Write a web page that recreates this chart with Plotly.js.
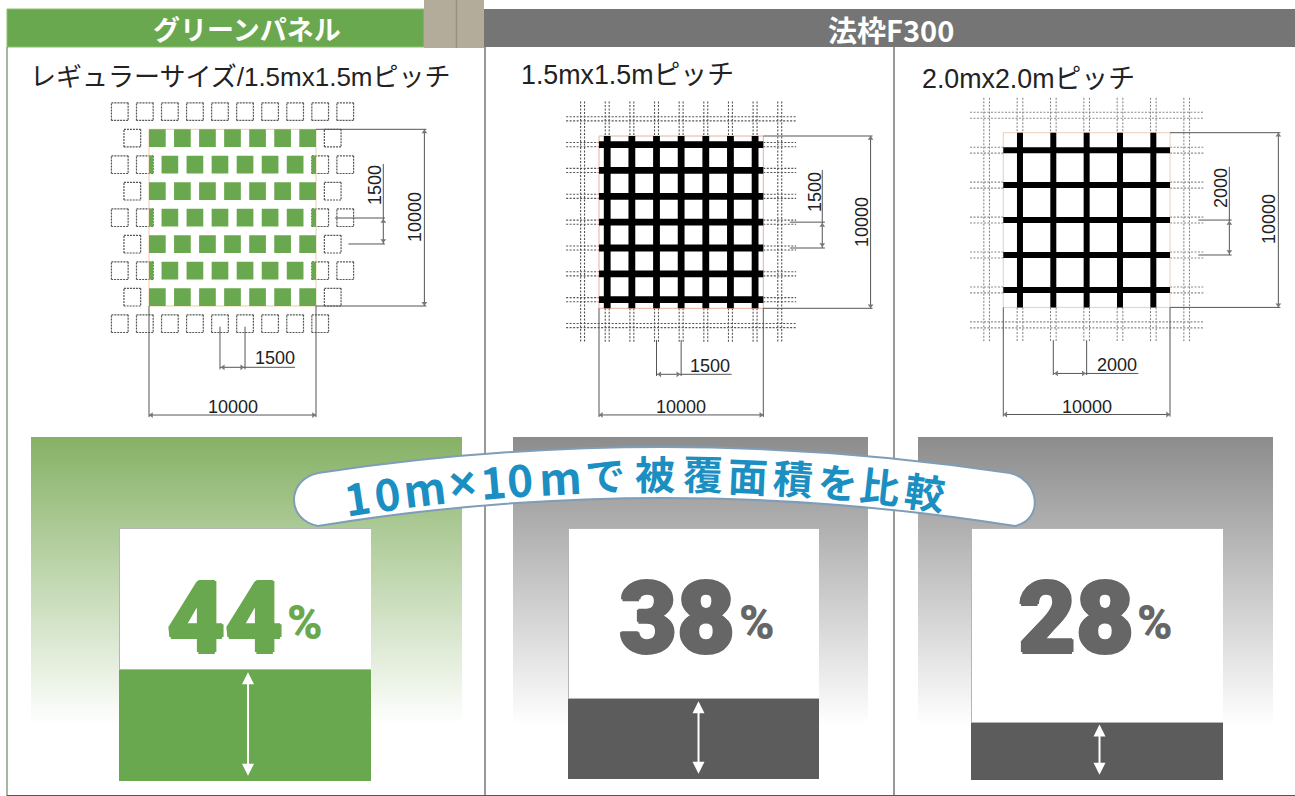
<!DOCTYPE html>
<html><head><meta charset="utf-8">
<script src="https://cdn.plot.ly/plotly-3.0.1.min.js"></script>
<style>html,body{margin:0;padding:0;background:#fff;overflow:hidden}#c{width:1295px;height:796px}</style>
</head><body><div id="c"></div>
<script>
// ---------- chart values ----------
const headers = ['グリーンパネル', '法枠F300'];
const subtitles = ['レギュラーサイズ/1.5mx1.5mピッチ', '1.5mx1.5mピッチ', '2.0mx2.0mピッチ'];
const bannerChars = ['1','0','m','×','1','0','m','で','被','覆','面','積','を','比','較'];
const coverageLabels = [44, 38, 28];       // printed percentages
const coverageDrawn = [44, 32, 23];        // bar heights as they appear in the picture (% of box)
const span = 10000;                        // mm
const panelRowsY = [500, 2000, 3500, 5000, 6500, 8000, 9500];
const panelColsOdd = [500, 2000, 3500, 5000, 6500, 8000, 9500];
const panelColsEven = [-250, 1250, 2750, 4250, 5750, 7250, 8750, 10250];
const dottedTopX = [-1750, -250, 1250, 2750, 4250, 5750, 7250, 8750, 10250, 11750];
const dottedBottomX = [-1750, -250, 1250, 2750, 4250, 5750, 7250, 8750, 10250];
const dottedOddSideX = [-1000, 11000];
const dottedEvenSideX = [-1750, -250, 10250, 11750];
const f300Pitch15 = [500, 2000, 3500, 5000, 6500, 8000, 9500];
const f300Pitch20 = [1000, 3000, 5000, 7000, 9000];
const outer = [-1000, 11000];

// ---------- helpers ----------
const W = 1295, H = 796;
const GREEN = '#6aa84f', GREY = '#5c5c5c';
const FONT = '"Liberation Sans", "Noto Sans CJK JP", sans-serif';
const CJK = '"Noto Sans CJK JP", "Liberation Sans", sans-serif';
const LATIN = '"Liberation Sans", Arial, sans-serif';
const traces = [], shapes = [], annos = [];
const layout = {width: W, height: H, margin: {l:0,r:0,t:0,b:0}, showlegend: false,
  paper_bgcolor: '#fff', plot_bgcolor: 'rgba(0,0,0,0)', barmode: 'stack', bargap: 0,
  shapes, annotations: annos, hovermode: false};
const hide = {visible:false, fixedrange:true};
layout.xaxis = {...hide, range:[0,W], domain:[0,1]};
layout.yaxis = {...hide, range:[H,0], domain:[0,1]};

function rect(x0,y0,x1,y1,fill,line){shapes.push({type:'rect',xref:'x',yref:'y',x0,y0,x1,y1,fillcolor:fill,line:line||{width:0},layer:'below'});}
function vline(x,y0,y1,c,w){shapes.push({type:'line',xref:'x',yref:'y',x0:x,x1:x,y0,y1,line:{color:c||'#444',width:w||1},layer:'below'});}
function text(t,x,y,size,color,opt){annos.push(Object.assign({text:t,xref:'x',yref:'y',x,y,showarrow:false,xanchor:'center',yanchor:'middle',font:{family:FONT,size,color}},opt||{}));}

rect(7,9,424,47,GREEN,{color:'#8cc070',width:1});
rect(484,9,1295,47,'#757575');
rect(424,0,484,48,'#b3ac9b');
vline(456.5,0,48,'#98927f',1.5);
vline(7,47,796,'#4f6f4a',1); vline(485,47,796,'#333',1); vline(894,47,796,'#333',1);
shapes.push({type:'line',xref:'x',yref:'y',x0:7,x1:1295,y0:795.5,y1:795.5,line:{color:'#555',width:1},layer:'below'});

text(headers[0],247,28,27,'#ffffff',{font:{family:CJK,size:27,color:'#fff',weight:700}});
text(headers[1],891,29,29,'#ffffff',{font:{family:CJK,size:29,color:'#fff',weight:700}});
text(subtitles[0],240.5,77,26,'#222');
text(subtitles[1],627,75,26.8,'#222');
text(subtitles[2],1028,79,26.8,'#222');

[[31,462,'#86b165'],[513,868,'#8c8c8c'],[918,1273,'#8c8c8c']].forEach(p=>{
  traces.push({type:'scatter',mode:'none',xaxis:'x',yaxis:'y',x:[p[0],p[1],p[1],p[0],p[0]],y:[437,437,725,725,437],
    fill:'toself',fillcolor:p[2],
    fillgradient:{type:'vertical',start:437,stop:725,colorscale:[[0,p[2]],[1,'#ffffff']]},hoverinfo:'skip'});
});

function diagram(n,box,x0,sx,y0,sy){
  const [L,R,T,B]=box;
  layout['xaxis'+n]={...hide,anchor:'y'+n,domain:[L/W,R/W],range:[(L-x0)/sx,(R-x0)/sx]};
  layout['yaxis'+n]={...hide,anchor:'x'+n,domain:[1-B/H,1-T/H],range:[(B-y0)/sy,(T-y0)/sy]};
  return {xaxis:'x'+n,yaxis:'y'+n};
}
function addLines(ax,segs,line){
  const x=[],y=[];
  segs.forEach(s=>{x.push(s[0],s[2],null);y.push(s[1],s[3],null);});
  traces.push({type:'scatter',mode:'lines',...ax,x,y,line,hoverinfo:'skip',connectgaps:false});
}
function addFill(ax,polys,color){
  const x=[],y=[];
  polys.forEach(p=>{x.push(p[0],p[2],p[2],p[0],p[0],null);y.push(p[1],p[1],p[3],p[3],p[1],null);});
  traces.push({type:'scatter',mode:'lines',...ax,x,y,fill:'toself',fillcolor:color,line:{width:0,color},hoverinfo:'skip'});
}
function addTicks(ax,pts){
  traces.push({type:'scatter',mode:'markers',...ax,x:pts.map(p=>p[0]),y:pts.map(p=>p[1]),
    marker:{symbol:pts.map(p=>p[2]),size:5,color:'#777'},hoverinfo:'skip'});
}
function dims(ax,o){
  const c='#555';
  addLines(ax,[
    [0,span,0,o.bottomY+120],[span,span,span,o.bottomY+120],[0,o.bottomY,span,o.bottomY],
    [span,0,o.rightX+120,0],[span,span,o.rightX+120,span],[o.rightX,0,o.rightX,span],
    [o.b0,o.bt,o.b0,o.bb],[o.b1,o.bt,o.b1,o.bb],[o.b0,o.by,o.bEnd,o.by],
    [o.rs0,o.r0,o.rx,o.r0],[o.rs1,o.r1,o.rx,o.r1],[o.rvx,o.rTop,o.rvx,o.r1]
  ],{color:c,width:1});
  addTicks(ax,[[150,o.bottomY,'triangle-left'],[span-150,o.bottomY,'triangle-right'],
    [o.rightX,150,'triangle-up'],[o.rightX,span-150,'triangle-down'],
    [o.b0+200,o.by,'triangle-left'],[o.b1-200,o.by,'triangle-right'],
    [o.rvx,o.r0+200,'triangle-up'],[o.rvx,o.r1-200,'triangle-down']]);
}
function dimLabel(t,x,y,rot){annos.push({text:t,xref:'x',yref:'y',x,y,showarrow:false,textangle:rot?-90:0,
  font:{family:LATIN,size:18,color:'#222'}});}

// Diagram 1 – green panels
const a1=diagram(2,[100,450,92,425],149,0.0167,129.3,0.01767);
const sq=(cx,cy,h)=>[cx-h,cy-h,cx+h,cy+h];
function sqSegs(list){const s=[];list.forEach(r=>{const [a,b,c,d]=r;s.push([a,b,c,b],[c,b,c,d],[c,d,a,d],[a,d,a,b]);});return s;}
let dotted=[];
dottedTopX.forEach(x=>dotted.push(sq(x,-1000,500)));
dottedBottomX.forEach(x=>dotted.push(sq(x,11000,500)));
panelRowsY.forEach((y,i)=>(i%2?dottedEvenSideX:dottedOddSideX).forEach(x=>dotted.push(sq(x,y,500))));
addLines(a1,sqSegs(dotted),{color:'#555',width:1.2,dash:'2px,1px'});
addLines(a1,[[0,0,span,0],[span,0,span,span],[span,span,0,span],[0,span,0,0]],{color:'#e6cfa8',width:1});
let green=[];
panelRowsY.forEach((y,i)=>(i%2?panelColsEven:panelColsOdd).forEach(x=>{
  green.push([Math.max(0,x-500),y-500,Math.min(span,x+500),y+500]);}));
addFill(a1,green,GREEN);
dims(a1,{bottomY:16170,rightX:16490,b0:4250,b1:5750,bt:11170,bb:13585,by:13470,bEnd:8740,
  rs0:11140,rs1:11940,r0:5020,r1:6490,rx:14130,rvx:14030,rTop:1960});
dimLabel('10000',233,407); dimLabel('1500',275,358); dimLabel('1500',375,185,1); dimLabel('10000',415,217,1);

// F300 diagrams
function frame(ax,pitch,pairOff,ext,color,lineW,frameC){
  const ds=[];
  outer.forEach(x=>[-pairOff,pairOff].forEach(o=>ds.push([x+o,ext[0],x+o,ext[1]])));
  outer.forEach(y=>[-pairOff,pairOff].forEach(o=>ds.push([ext[0],y+o,ext[1],y+o])));
  pitch.forEach(v=>[-pairOff,pairOff].forEach(o=>{
    ds.push([v+o,ext[0],v+o,0],[v+o,span,v+o,ext[1]]);
    ds.push([ext[0],v+o,0,v+o],[span,v+o,ext[1],v+o]);
  }));
  addLines(ax,ds,{color,width:1.1,dash:'2px,1.5px'});
  addLines(ax,[[0,0,span,0],[span,0,span,span],[span,span,0,span],[0,span,0,0]],{color:frameC,width:1});
  const m=[];
  pitch.forEach(v=>{m.push([v,0,v,span]);m.push([0,v,span,v]);});
  addLines(ax,m,{color:'#000',width:lineW});
}
const a2=diagram(3,[552,890,92,425],599,0.01643,136,0.01723);
frame(a2,f300Pitch15,120,[-2000,12000],'#555',6.8,'#e8b09a');
dims(a2,{bottomY:16190,rightX:16530,b0:3500,b1:5000,bt:11840,bb:13930,by:13830,bEnd:8070,
  rs0:11620,rs1:11620,r0:5000,r1:6500,rx:13750,rvx:13590,rTop:1970});
dimLabel('10000',681,407); dimLabel('1500',710,366); dimLabel('1500',815,192,1); dimLabel('10000',862,222,1);

const a3=diagram(4,[955,1290,92,425],1003.3,0.01667,132.7,0.01747);
frame(a3,f300Pitch20,170,[-2000,12000],'#8a8a8a',6,'#eccdbb');
dims(a3,{bottomY:16130,rightX:16500,b0:3000,b1:5000,bt:11870,bb:13870,by:13780,bEnd:8100,
  rs0:11700,rs1:11700,r0:5000,r1:7000,rx:13700,rvx:13560,rTop:1950});
dimLabel('10000',1087,407); dimLabel('2000',1117,365); dimLabel('2000',1221,188,1); dimLabel('10000',1269,219,1);

// Coverage bars
const boxes=[[119,371,528,781],[568,819,528,779],[971,1223,528,780]];
const barColor=[GREEN,GREY,GREY], textColor=[GREEN,'#666','#666'];
const numX=[225,677,1076], pctX=[305,757,1155], arrowX=[0.012,0.02,0.01];
coverageDrawn.forEach((v,i)=>{
  const n=5+i,[L,R,T,B]=boxes[i];
  layout['xaxis'+n]={...hide,anchor:'y'+n,domain:[L/W,R/W],range:[-0.5,0.5]};
  layout['yaxis'+n]={...hide,anchor:'x'+n,domain:[1-B/H,1-T/H],range:[0,100]};
  traces.push({type:'bar',xaxis:'x'+n,yaxis:'y'+n,x:[0],y:[v],width:1,marker:{color:barColor[i],line:{width:0}},hoverinfo:'skip'});
  traces.push({type:'bar',xaxis:'x'+n,yaxis:'y'+n,x:[0],y:[100-v],width:1,marker:{color:'#fff',line:{width:1,color:'#b5b5b5'}},hoverinfo:'skip'});
  annos.push({xref:'x'+n,yref:'y'+n,axref:'x'+n,ayref:'y'+n,x:arrowX[i],y:v-1,ax:arrowX[i],ay:1.5,
    showarrow:true,arrowside:'end+start',arrowhead:2,arrowsize:1.2,arrowwidth:2,arrowcolor:'#fff',text:''});
  const sh=c=>`1.5px 0 0 ${c}, -1.5px 0 0 ${c}, 0 1.5px 0 ${c}, 0 -1.5px 0 ${c}`;
  const tc=textColor[i];
  text(String(coverageLabels[i]),numX[i],617,100,tc,{font:{family:'Roboto, "Liberation Sans"',size:100,color:tc,weight:900,shadow:sh(tc)}});
  text('%',pctX[i],622,48,tc,{font:{family:'Roboto, "Liberation Sans"',size:48,color:tc,weight:900}});
});

// Banner
shapes.push({type:'path',xref:'x',yref:'y',layer:'above',fillcolor:'#ffffff',line:{color:'#7d9db8',width:2},
  path:'M 318 473 Q 660 421 1010 473 C 1040 480 1044 520 1015 526 Q 660 470 318 526 C 286 520 286 480 318 473 Z'});
const charX=[357,387,424,462,493,520,560,605,655,703,748,793,838,880,925];
charX.forEach((x,i)=>{
  const y=473+0.00025*(x-660)*(x-660);
  const ang=Math.atan(2*0.00025*(x-660))*180/Math.PI;
  const size=bannerChars[i]==='×'?46:(i<7?44:40);
  annos.push({text:bannerChars[i],xref:'x',yref:'y',x,y,showarrow:false,textangle:ang,
    font:{family:bannerChars[i]==='×'?LATIN:CJK,size,color:'#1b8fc2',weight:700}});
});

Plotly.newPlot('c',traces,layout,{staticPlot:true,displayModeBar:false});
</script></body></html>
